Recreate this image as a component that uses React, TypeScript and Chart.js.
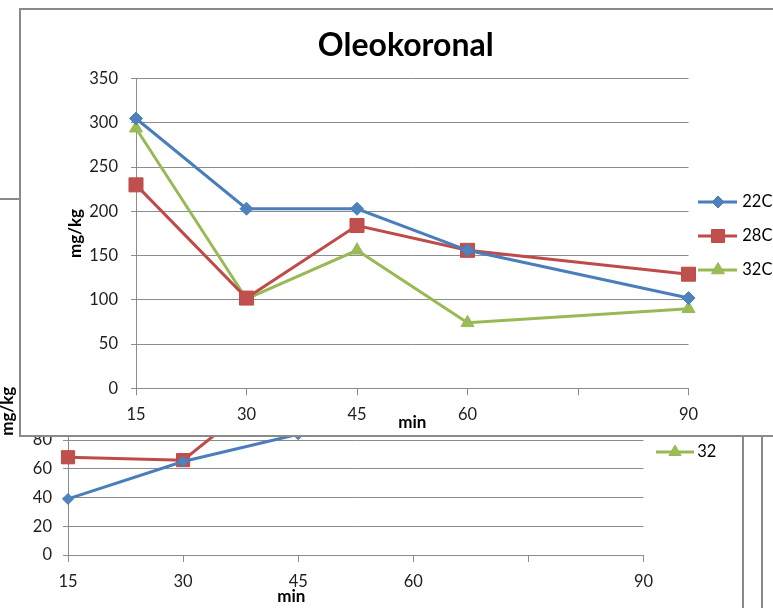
import React, { useEffect, useRef } from 'react';
import Chart from 'chart.js/auto';

// ---------- data ----------
const MINUTES = [15, 30, 45, 60, 90];
const X_MIN = 15;
const X_MAX = 90;
const X_STEP = 15;
const HIDDEN_X_LABELS = [75];

const FRONT_TITLE = 'Oleokoronal';
const FRONT_LABELS = ['22C', '28C', '32C'];
const FRONT_22C = [305, 203, 203, 156, 102];
const FRONT_28C = [230, 102, 184, 156, 129];
const FRONT_32C = [294, 101, 156, 74, 90];
const FRONT_Y_MIN = 0;
const FRONT_Y_MAX = 350;
const FRONT_Y_STEP = 50;

const BACK_LABELS = ['22', '28', '32'];
const BACK_22 = [39, 65, 84, 86, 100];
const BACK_28 = [68, 66, 130, 112, 96];
const BACK_32 = [150, 118, 126, 104, 108];
const BACK_Y_MIN = 0;
const BACK_Y_MAX = 200;
const BACK_Y_STEP = 20;

const X_TITLE = 'min';
const Y_TITLE = 'mg/kg';

// ---------- styles ----------
const FONT = 'Lato';
const GRID = '#8c8c8c';
const TEXT = '#1e1e1e';
const STYLES = [
  { line: '#4A7EBB', fill: '#4F81BD', shape: 'rectRot' },
  { line: '#BE4B48', fill: '#C0504D', shape: 'rect' },
  { line: '#98B954', fill: '#9BBB59', shape: 'triangle' },
];

function makeIcon(shape: string, line: string, fill: string, from: number, to: number, mx: number, size: number) {
  const c = document.createElement('canvas');
  c.width = 48;
  c.height = 20;
  const g = c.getContext('2d') as CanvasRenderingContext2D;
  g.strokeStyle = line;
  g.lineWidth = 3;
  g.beginPath();
  g.moveTo(from, 10);
  g.lineTo(to, 10);
  g.stroke();
  g.fillStyle = fill;
  g.lineWidth = 1;
  g.beginPath();
  const cy = 10;
  if (shape === 'rectRot') {
    g.moveTo(mx, cy - size);
    g.lineTo(mx + size, cy);
    g.lineTo(mx, cy + size);
    g.lineTo(mx - size, cy);
    g.closePath();
  } else if (shape === 'rect') {
    g.rect(mx - size, cy - size, size * 2, size * 2);
  } else {
    g.moveTo(mx, cy - size);
    g.lineTo(mx + size * 0.866, cy + size / 2);
    g.lineTo(mx - size * 0.866, cy + size / 2);
    g.closePath();
  }
  g.fill();
  g.stroke();
  return c;
}

function buildDatasets(labels: string[], series: number[][], radii: number[]) {
  return labels.map((label, i) => ({
    label,
    data: MINUTES.map((x, j) => ({ x, y: series[i][j] })),
    borderColor: STYLES[i].line,
    backgroundColor: STYLES[i].fill,
    pointBackgroundColor: STYLES[i].fill,
    pointBorderColor: STYLES[i].line,
    pointStyle: STYLES[i].shape,
    pointRadius: radii[i],
    pointBorderWidth: 1,
    borderWidth: 3,
    tension: 0,
    clip: false as any,
  }));
}

function legendGen(icons: HTMLCanvasElement[]) {
  return (chart: any) =>
    chart.data.datasets.map((ds: any, i: number) => ({
      text: ds.label,
      pointStyle: icons[i],
      fillStyle: STYLES[i].fill,
      strokeStyle: STYLES[i].line,
      lineWidth: 0,
      hidden: false,
      datasetIndex: i,
      fontColor: '#000',
    }));
}

const xTickCb = (v: any) => (HIDDEN_X_LABELS.includes(Number(v)) ? '' : String(v));

const backMinTitle = {
  id: 'backMinTitle',
  afterDraw(chart: any) {
    const { ctx, chartArea } = chart;
    ctx.save();
    ctx.font = `bold 17px ${FONT}`;
    ctx.fillStyle = '#000';
    ctx.textAlign = 'center';
    ctx.textBaseline = 'middle';
    ctx.fillText(X_TITLE, chartArea.left + 0.388 * (chartArea.right - chartArea.left), chart.height - 11);
    ctx.restore();
  },
};

export default function App() {
  const frontRef = useRef<HTMLCanvasElement>(null);
  const backRef = useRef<HTMLCanvasElement>(null);

  useEffect(() => {
    const frontIcons = STYLES.map((s, i) =>
      makeIcon(s.shape, s.line, s.fill, 2, 41, 22, [6, 6.5, 7.5][i])
    );
    const backIcons = STYLES.map((s, i) =>
      makeIcon(s.shape, s.line, s.fill, 5, 43, 24, [5.5, 6.5, 7][i])
    );

    const tickFont = { family: FONT, size: 16.5 };
    const titleFont = { family: FONT, size: 17, weight: 'bold' as const };

    const back = new Chart(backRef.current as HTMLCanvasElement, {
      type: 'line',
      data: { datasets: buildDatasets(BACK_LABELS, [BACK_22, BACK_28, BACK_32], [5.5, 9.3, 7]) as any },
      plugins: [backMinTitle],
      options: {
        animation: false,
        responsive: false,
        events: [],
        layout: { padding: { top: 28, right: 18.5, bottom: 0, left: 0 } },
        plugins: {
          title: { display: true, text: '', font: { family: FONT, size: 16 }, padding: { top: 0, bottom: 20.3 } },
          legend: {
            position: 'right',
            align: 'center',
            maxWidth: 80,
            labels: {
              usePointStyle: true,
              pointStyleWidth: 28,
              padding: 17.5,
              font: tickFont,
              color: '#000',
              generateLabels: legendGen(backIcons),
            },
          },
          tooltip: { enabled: false },
        },
        scales: {
          x: {
            type: 'linear',
            min: X_MIN,
            max: X_MAX,
            ticks: { stepSize: X_STEP, callback: xTickCb, font: tickFont, color: TEXT, padding: 10, autoSkip: false, maxRotation: 0 },
            grid: { drawOnChartArea: false, drawTicks: true, tickLength: 7, color: GRID },
            border: { color: GRID },
            afterFit: (s: any) => { s.height = 53; },
          },
          y: {
            min: BACK_Y_MIN,
            max: BACK_Y_MAX,
            ticks: { stepSize: BACK_Y_STEP, font: tickFont, color: TEXT, padding: 11 },
            grid: { color: GRID, tickLength: 5 },
            border: { color: GRID },
            title: { display: true, text: Y_TITLE, font: titleFont, color: '#000', padding: { top: -2.2, bottom: 0 } },
            afterFit: (s: any) => { s.width = 68; },
          },
        },
      },
    });

    const front = new Chart(frontRef.current as HTMLCanvasElement, {
      type: 'line',
      data: { datasets: buildDatasets(FRONT_LABELS, [FRONT_22C, FRONT_28C, FRONT_32C], [6.5, 9.9, 7.5]) as any },
      options: {
        animation: false,
        responsive: false,
        events: [],
        layout: { padding: { top: 27, right: 44.5, bottom: 0, left: 14 } },
        plugins: {
          title: {
            display: true,
            text: FRONT_TITLE,
            font: { family: FONT, size: 32, weight: 'bold' },
            color: '#000',
            padding: { top: -10.2, bottom: 13.5 },
          },
          legend: {
            position: 'right',
            align: 'center',
            maxWidth: 88,
            labels: {
              usePointStyle: true,
              pointStyleWidth: 28,
              padding: 17.5,
              font: tickFont,
              color: '#000',
              generateLabels: legendGen(frontIcons),
            },
          },
          tooltip: { enabled: false },
        },
        scales: {
          x: {
            type: 'linear',
            min: X_MIN,
            max: X_MAX,
            ticks: { stepSize: X_STEP, callback: xTickCb, font: tickFont, color: TEXT, padding: 9.8, autoSkip: false, maxRotation: 0 },
            grid: { drawOnChartArea: false, drawTicks: true, tickLength: 7, color: GRID },
            border: { color: GRID },
            title: { display: true, text: X_TITLE, font: titleFont, color: '#000', padding: { top: 0, bottom: 1.8 } },
            afterFit: (s: any) => { s.height = 46.7; },
          },
          y: {
            min: FRONT_Y_MIN,
            max: FRONT_Y_MAX,
            ticks: { stepSize: FRONT_Y_STEP, font: tickFont, color: TEXT, padding: 13 },
            grid: { color: GRID, tickLength: 5 },
            border: { color: GRID },
            title: { display: true, text: Y_TITLE, font: titleFont, color: '#000', padding: { top: 30.8, bottom: 0 } },
            afterFit: (s: any) => { s.width = 101; },
          },
        },
      },
    });

    return () => {
      front.destroy();
      back.destroy();
    };
  }, []);

  return (
    <div style={{ position: 'fixed', left: 0, top: 0, width: 773, height: 608, overflow: 'hidden', background: '#fff' }}>
      <div style={{ position: 'absolute', left: -2, top: 198, width: 746, height: 500, border: '2px solid #8a8a8a', boxSizing: 'border-box' }} />
      <canvas ref={backRef} width={742} height={408} style={{ position: 'absolute', left: 0, top: 200, width: 742, height: 408 }} />
      <div style={{ position: 'absolute', left: 761, top: 300, width: 2, height: 400, background: '#8a8a8a' }} />
      <div style={{ position: 'absolute', left: 19, top: 8, width: 800, height: 429, border: '2px solid #8a8a8a', boxSizing: 'border-box', background: '#fff', overflow: 'hidden' }}>
        <canvas ref={frontRef} width={800} height={425} style={{ position: 'absolute', left: 0, top: 0, width: 800, height: 425 }} />
      </div>
    </div>
  );
}
